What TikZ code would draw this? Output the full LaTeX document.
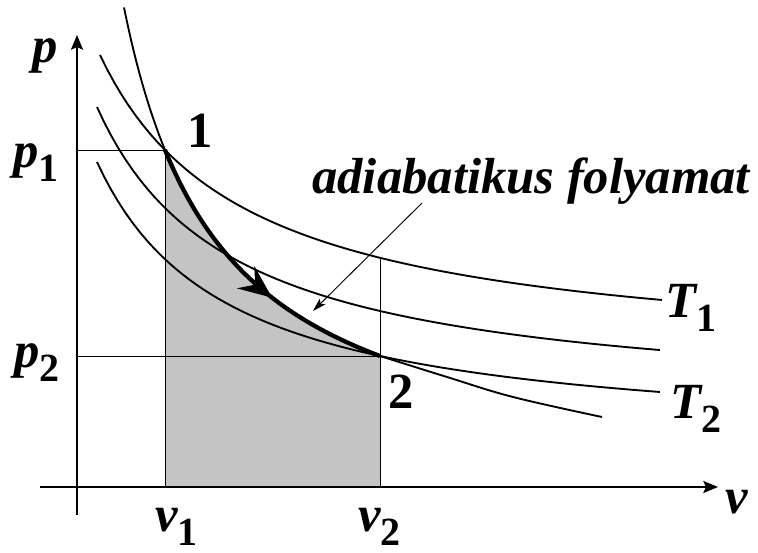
\documentclass[tikz,border=0pt]{standalone}
\usepackage{fontspec}
\setmainfont{Liberation Serif}
\usetikzlibrary{arrows.meta,decorations.markings}
\definecolor{areagray}{RGB}{196,196,196}
\newcommand\lowsub[1]{\raisebox{-11pt}{\fontsize{30}{32}\selectfont\upshape #1}}
\begin{document}
\begin{tikzpicture}[x=0.75pt,y=-0.75pt,
  lbl/.style={font=\fontsize{38}{40}\selectfont\bfseries\itshape, inner sep=0pt, anchor=base west},
  num/.style={font=\fontsize{38}{40}\selectfont\bfseries, inner sep=0pt, anchor=base west},
  guide/.style={line width=0.7pt},
  curve/.style={line width=1.4pt},
  adiab/.style={line width=3.2pt},
  axis/.style={line width=1.6pt, -{Stealth[length=11pt,width=9pt,inset=2pt]}},
  midarrow/.style={postaction={decorate},
    decoration={markings, mark=at position 0.6 with {\arrow{Stealth[length=25pt,width=21pt,inset=9pt]}}}},
]
\useasboundingbox (0,0) rectangle (758,553);
% key points
\coordinate (O) at (77,487);
\coordinate (P1) at (165,150);
\coordinate (P2) at (380,356);
\coordinate (V1) at (165,487);
\coordinate (V2) at (380,487);
\coordinate (V2top) at (380,258);
\coordinate (Yp1) at (77,150);
\coordinate (Yp2) at (77,356);
\coordinate (ybot) at (77,515);
\coordinate (ytop) at (77,35);
\coordinate (xleft) at (40,487);
\coordinate (xright) at (718,487);
\coordinate (annS) at (422,203);
\coordinate (annT) at (313,311);

% shaded work area
\begin{scope}[shift={(77,487)}, x=75pt, y=75pt]
  \fill[areagray] (0.88,0) -- plot[domain=0.88:3.03,samples=60] (\x,{-0.016+4.6866/(\x+0.504)}) -- (3.03,0) -- cycle;
\end{scope}

% guide lines
\draw[guide] (Yp1) -- (P1) -- (V1);
\draw[guide] (Yp2) -- (P2);
\draw[guide] (V2top) -- (V2);

\begin{scope}[shift={(77,487)}, x=75pt, y=75pt]
  % isotherms
  \draw[curve] plot[domain=0.23:5.85,samples=80] (\x,{1.233+4.5128/(\x+1.232)});
  \draw[curve] plot[domain=0.20:5.83,samples=80] (\x,{0.787+4.0672/(\x+1.15)});
  \draw[curve] plot[domain=0.20:5.83,samples=80] (\x,{0.419+3.6805/(\x+1.10)});
  % adiabat thin upper part
  \draw[curve] plot[domain=0.47:0.88,samples=30] (\x,{-0.016+4.6866/(\x+0.504)});
  % adiabat thick part 1 -> 2 with direction arrow
  \draw[adiab, midarrow] plot[domain=0.88:3.03,samples=60] (\x,{-0.016+4.6866/(\x+0.504)});
\end{scope}
% adiabat thin lower part
\draw[curve] plot[smooth,tension=0.6] coordinates {(380,356) (447,377) (513,397) (602,417)};

% axes
\draw[axis] (ybot) -- (ytop);
\draw[axis] (xleft) -- (xright);

% annotation
\draw[guide, -{Stealth[length=10pt,width=6pt,inset=2pt]}] (annS) -- (annT);

% labels
\node[lbl] (lp) at (32,62) {p};
\node[lbl] (lp1) at (13,167) {p\lowsub{1}};
\node[lbl] (lp2) at (14,367) {p\lowsub{2}};
\node[num] (l1) at (187,147) {1};
\node[num] (l2) at (388,408) {2};
\node[lbl] (lT1) at (665,317) {T\lowsub{1}};
\node[lbl] (lT2) at (670,418) {T\lowsub{2}};
\node[lbl] (lv1) at (155,531) {v\lowsub{1}};
\node[lbl] (lv2) at (358,531) {v\lowsub{2}};
\node[lbl] (lv) at (725,513) {v};
\node[lbl] (lad) at (312,193) {adiabatikus folyamat};
\end{tikzpicture}
\end{document}
